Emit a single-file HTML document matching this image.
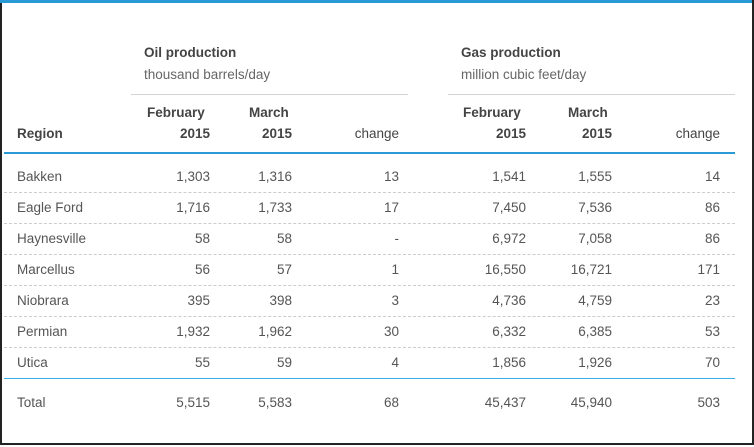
<!DOCTYPE html>
<html><head><meta charset="utf-8"><style>
html,body{margin:0;padding:0;}
body{width:754px;height:447px;position:relative;background:#fff;font-family:"Liberation Sans",Arial,sans-serif;font-size:13.5px;color:#555;overflow:hidden;}
.frame{position:absolute;left:0;top:0;width:750px;height:443px;border-left:2px solid #222;border-right:2px solid #222;border-bottom:2px solid #222;}
.top{position:absolute;left:0;top:0;width:752px;height:3px;background:#2a9ad6;}
.t{position:absolute;white-space:nowrap;line-height:16px;}
.r{text-align:right;}
.b{font-weight:bold;color:#444;}
.dash{position:absolute;left:4px;width:731px;height:0;border-top:1px dashed #ccc;}
.hl{position:absolute;height:1px;background:#d4d4d4;}
</style></head><body>
<div class="frame"></div><div class="top"></div>

<div class="t b" style="left:144px;top:45px">Oil production</div>
<div class="t" style="left:144px;top:67px;color:#666">thousand barrels/day</div>
<div class="t b" style="left:461px;top:45px">Gas production</div>
<div class="t" style="left:461px;top:67px;color:#666">million cubic feet/day</div>
<div class="hl" style="left:131px;top:94px;width:277px"></div>
<div class="hl" style="left:448px;top:94px;width:287px"></div>

<div class="t b" style="left:147px;top:105px">February</div>
<div class="t b" style="left:249px;top:105px">March</div>
<div class="t b" style="left:463px;top:105px">February</div>
<div class="t b" style="left:568px;top:105px">March</div>
<div class="t b" style="left:17px;top:126px">Region</div>
<div class="t b r" style="right:544px;top:126px">2015</div>
<div class="t b r" style="right:462px;top:126px">2015</div>
<div class="t r" style="right:355px;top:126px;color:#444">change</div>
<div class="t b r" style="right:228px;top:126px">2015</div>
<div class="t b r" style="right:142px;top:126px">2015</div>
<div class="t r" style="right:34px;top:126px;color:#444">change</div>
<div style="position:absolute;left:4px;top:152px;width:731px;height:2px;background:#2a9ad6"></div>

<div class="t" style="left:17px;top:169px">Bakken</div>
<div class="t r" style="right:544px;top:169px">1,303</div>
<div class="t r" style="right:462px;top:169px">1,316</div>
<div class="t r" style="right:355px;top:169px">13</div>
<div class="t r" style="right:228px;top:169px">1,541</div>
<div class="t r" style="right:142px;top:169px">1,555</div>
<div class="t r" style="right:34px;top:169px">14</div>
<div class="dash" style="top:192px"></div>

<div class="t" style="left:17px;top:200px">Eagle Ford</div>
<div class="t r" style="right:544px;top:200px">1,716</div>
<div class="t r" style="right:462px;top:200px">1,733</div>
<div class="t r" style="right:355px;top:200px">17</div>
<div class="t r" style="right:228px;top:200px">7,450</div>
<div class="t r" style="right:142px;top:200px">7,536</div>
<div class="t r" style="right:34px;top:200px">86</div>
<div class="dash" style="top:223px"></div>

<div class="t" style="left:17px;top:231px">Haynesville</div>
<div class="t r" style="right:544px;top:231px">58</div>
<div class="t r" style="right:462px;top:231px">58</div>
<div class="t r" style="right:355px;top:231px">-</div>
<div class="t r" style="right:228px;top:231px">6,972</div>
<div class="t r" style="right:142px;top:231px">7,058</div>
<div class="t r" style="right:34px;top:231px">86</div>
<div class="dash" style="top:254px"></div>

<div class="t" style="left:17px;top:262px">Marcellus</div>
<div class="t r" style="right:544px;top:262px">56</div>
<div class="t r" style="right:462px;top:262px">57</div>
<div class="t r" style="right:355px;top:262px">1</div>
<div class="t r" style="right:228px;top:262px">16,550</div>
<div class="t r" style="right:142px;top:262px">16,721</div>
<div class="t r" style="right:34px;top:262px">171</div>
<div class="dash" style="top:285px"></div>

<div class="t" style="left:17px;top:293px">Niobrara</div>
<div class="t r" style="right:544px;top:293px">395</div>
<div class="t r" style="right:462px;top:293px">398</div>
<div class="t r" style="right:355px;top:293px">3</div>
<div class="t r" style="right:228px;top:293px">4,736</div>
<div class="t r" style="right:142px;top:293px">4,759</div>
<div class="t r" style="right:34px;top:293px">23</div>
<div class="dash" style="top:316px"></div>

<div class="t" style="left:17px;top:324px">Permian</div>
<div class="t r" style="right:544px;top:324px">1,932</div>
<div class="t r" style="right:462px;top:324px">1,962</div>
<div class="t r" style="right:355px;top:324px">30</div>
<div class="t r" style="right:228px;top:324px">6,332</div>
<div class="t r" style="right:142px;top:324px">6,385</div>
<div class="t r" style="right:34px;top:324px">53</div>
<div class="dash" style="top:347px"></div>

<div class="t" style="left:17px;top:355px">Utica</div>
<div class="t r" style="right:544px;top:355px">55</div>
<div class="t r" style="right:462px;top:355px">59</div>
<div class="t r" style="right:355px;top:355px">4</div>
<div class="t r" style="right:228px;top:355px">1,856</div>
<div class="t r" style="right:142px;top:355px">1,926</div>
<div class="t r" style="right:34px;top:355px">70</div>
<div style="position:absolute;left:4px;top:378px;width:731px;height:1px;background:#3aaee6"></div>

<div class="t" style="left:17px;top:395px">Total</div>
<div class="t r" style="right:544px;top:395px">5,515</div>
<div class="t r" style="right:462px;top:395px">5,583</div>
<div class="t r" style="right:355px;top:395px">68</div>
<div class="t r" style="right:228px;top:395px">45,437</div>
<div class="t r" style="right:142px;top:395px">45,940</div>
<div class="t r" style="right:34px;top:395px">503</div>
</body></html>
